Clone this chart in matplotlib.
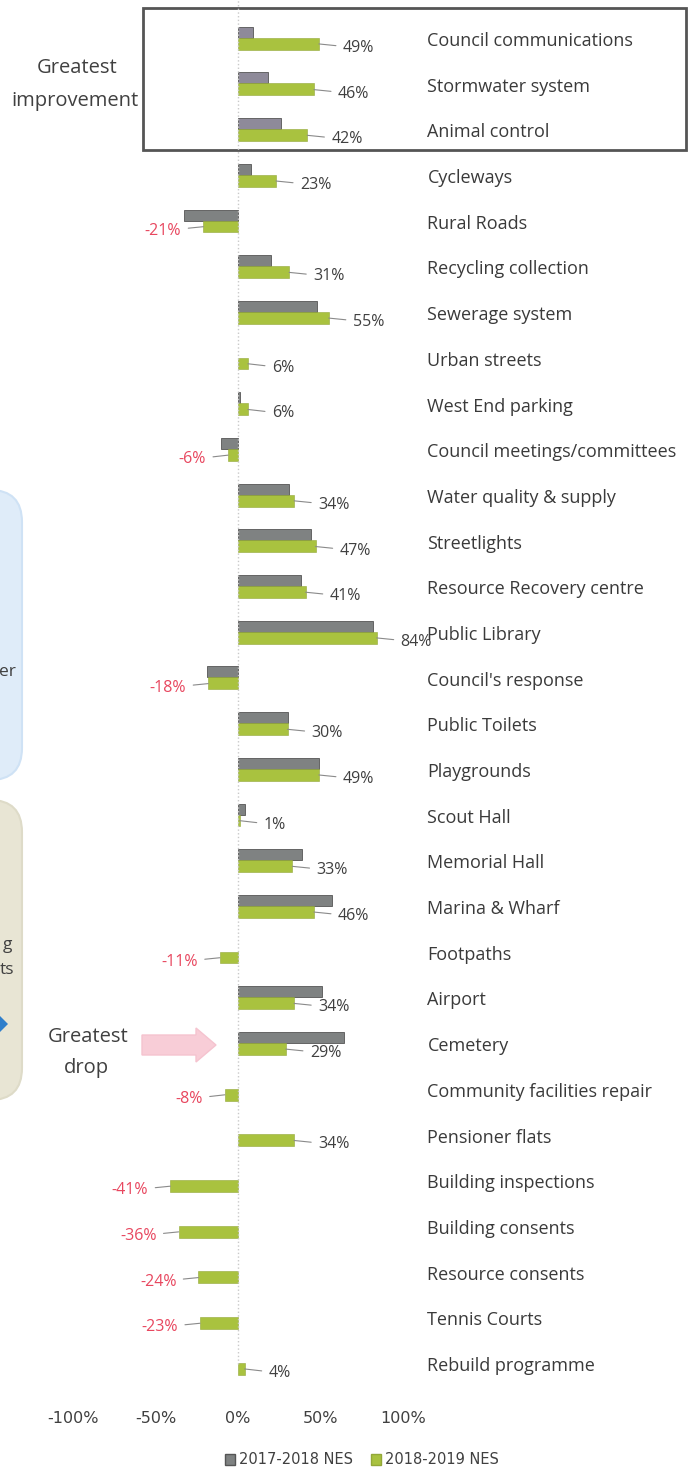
import numpy as np
import matplotlib
matplotlib.use("Agg")
import matplotlib.pyplot as plt
from matplotlib.patches import Patch, Rectangle, FancyBboxPatch, FancyArrow, Polygon

plt.rcParams['font.family'] = ['Open Sans', 'DejaVu Sans']

categories = ["Council communications", "Stormwater system", "Animal control", "Cycleways",
              "Rural Roads", "Recycling collection", "Sewerage system", "Urban streets",
              "West End parking", "Council meetings/committees", "Water quality & supply",
              "Streetlights", "Resource Recovery centre", "Public Library", "Council's response",
              "Public Toilets", "Playgrounds", "Scout Hall", "Memorial Hall", "Marina & Wharf",
              "Footpaths", "Airport", "Cemetery", "Community facilities repair", "Pensioner flats",
              "Building inspections", "Building consents", "Resource consents", "Tennis Courts",
              "Rebuild programme"]
nes_2017_2018 = [9, 18, 26, 8, -33, 20, 48, 0, 1, -10, 31, 44, 38, 82, -19, 30, 49, 4, 39, 57,
                 0, 51, 64, 0, 0, 0, 0, 0, 0, 0]
nes_2018_2019 = [49, 46, 42, 23, -21, 31, 55, 6, 6, -6, 34, 47, 41, 84, -18, 30, 49, 1, 33, 46,
                 -11, 34, 29, -8, 34, -41, -36, -24, -23, 4]
x_ticks = [-100, -50, 0, 50, 100]
x_tick_labels = ["-100%", "-50%", "0%", "50%", "100%"]
series_names = ["2017-2018 NES", "2018-2019 NES"]

W, H = 697, 1468
fig = plt.figure(figsize=(W / 100, H / 100), dpi=100)

# overlay in pixel coordinates for annotations
ov = fig.add_axes([0, 0, 1, 1], zorder=0)
ov.set_xlim(0, W)
ov.set_ylim(H, 0)
ov.axis('off')

# main axes geometry in pixels
px_per = 1.65
x0_px = 238.0
xmin, xmax = -100, 110
left_px = x0_px + xmin * px_per
right_px = x0_px + xmax * px_per
y_first, step = 38.0, 45.69
n = len(categories)
top_i, bot_i = -0.55, n - 1 + 0.62
top_px = y_first + top_i * step
bot_px = y_first + bot_i * step
ax = fig.add_axes([left_px / W, 1 - bot_px / H, (right_px - left_px) / W, (bot_px - top_px) / H], zorder=2)
ax.set_facecolor('none')
ax.set_xlim(xmin, xmax)
ax.set_ylim(bot_i, top_i)

grey = '#7f8282'
grey_top = '#8e8a99'
green = '#a9c23f'
idx = np.arange(n)
gcol = [grey_top if i < 3 else grey for i in idx]
glw = [0 if v == 0 else 0.6 for v in nes_2017_2018]
ax.barh(idx - 0.125, nes_2017_2018, height=0.24, color=gcol, edgecolor='#555555', linewidth=glw)
ax.barh(idx + 0.125, nes_2018_2019, height=0.26, color=green, edgecolor='#93a838', linewidth=0.4)

ax.axvline(0, color='#c9c9c9', linestyle=':', linewidth=1, ymin=0.02, ymax=1.02, clip_on=False)

for i, v in enumerate(nes_2018_2019):
    if v >= 0:
        ax.annotate(f"{v}%", xy=(v, i + 0.13), xytext=(24, -4), textcoords='offset pixels',
                    ha='left', va='center', fontsize=11.5, color='#404040',
                    arrowprops=dict(arrowstyle='-', color='#8a8a8a', lw=0.8, shrinkA=3, shrinkB=0))
    else:
        ax.annotate(f"{v}%", xy=(v, i + 0.13), xytext=(-22, -4), textcoords='offset pixels',
                    ha='right', va='center', fontsize=11.5, color='#e8475f',
                    arrowprops=dict(arrowstyle='-', color='#8a8a8a', lw=0.8, shrinkA=3, shrinkB=0))

# category labels on the right
for i, c in enumerate(categories):
    ax.annotate(c, xy=(1, i), xycoords=('axes fraction', 'data'), xytext=(8, -3),
                textcoords='offset pixels', ha='left', va='center', fontsize=13, color='#3a3a3a',
                annotation_clip=False)

ax.set_yticks([])
ax.set_xticks(x_ticks)
ax.set_xticklabels(x_tick_labels, family=['Liberation Sans Narrow', 'DejaVu Sans'], fontsize=11.5,
                   color='#404040')
ax.tick_params(axis='x', length=0, pad=14)
for s in ax.spines.values():
    s.set_visible(False)

# legend
handles = [Patch(facecolor=grey, edgecolor='#555555', label=series_names[0]),
           Patch(facecolor=green, edgecolor='#93a838', label=series_names[1])]
leg = fig.legend(handles=handles, loc='center', bbox_to_anchor=(362 / W, 1 - 1460 / H), ncol=2,
                 frameon=False, handlelength=0.7, handleheight=0.7, handletextpad=0.3,
                 columnspacing=1.2, prop={'family': ['Liberation Sans Narrow', 'DejaVu Sans'], 'size': 10.5})
for t in leg.get_texts():
    t.set_color('#404040')

# decorations
ov.add_patch(Rectangle((143, 8), 543, 142, fill=False, edgecolor='#555555', linewidth=2))
ov.text(77, 68, "Greatest", ha='center', va='center', fontsize=14.5, color='#404040')
ov.text(75, 101, "improvement", ha='center', va='center', fontsize=14.5, color='#404040')

ov.add_patch(FancyBboxPatch((-250, 490), 272, 290, boxstyle="round,pad=0,rounding_size=32",
                            facecolor='#dfecf9', edgecolor='#cfe2f5', linewidth=1.5))
ov.text(16, 672, "er", ha='right', va='center', fontsize=12.5, color='#404040')
ov.add_patch(FancyBboxPatch((-250, 800), 272, 300, boxstyle="round,pad=0,rounding_size=32",
                            facecolor='#e8e5d4', edgecolor='#dedbc8', linewidth=1.5))
ov.text(12, 945, "g", ha='right', va='center', fontsize=12.5, color='#404040')
ov.text(14, 970, "ts", ha='right', va='center', fontsize=12.5, color='#404040')
ov.add_patch(Polygon([[0, 1016], [8, 1024], [0, 1032]], closed=True, facecolor='#2f7fcb', edgecolor='none'))

ov.text(88, 1037, "Greatest", ha='center', va='center', fontsize=14.5, color='#404040')
ov.text(86, 1068, "drop", ha='center', va='center', fontsize=14.5, color='#404040')
ov.add_patch(FancyArrow(142, 1045, 74, 0, width=20, head_width=34, head_length=20,
                        length_includes_head=True, facecolor='#f8cdd7', edgecolor='#f5c3cf'))

fig.savefig("out.png", dpi=100, facecolor='white')
